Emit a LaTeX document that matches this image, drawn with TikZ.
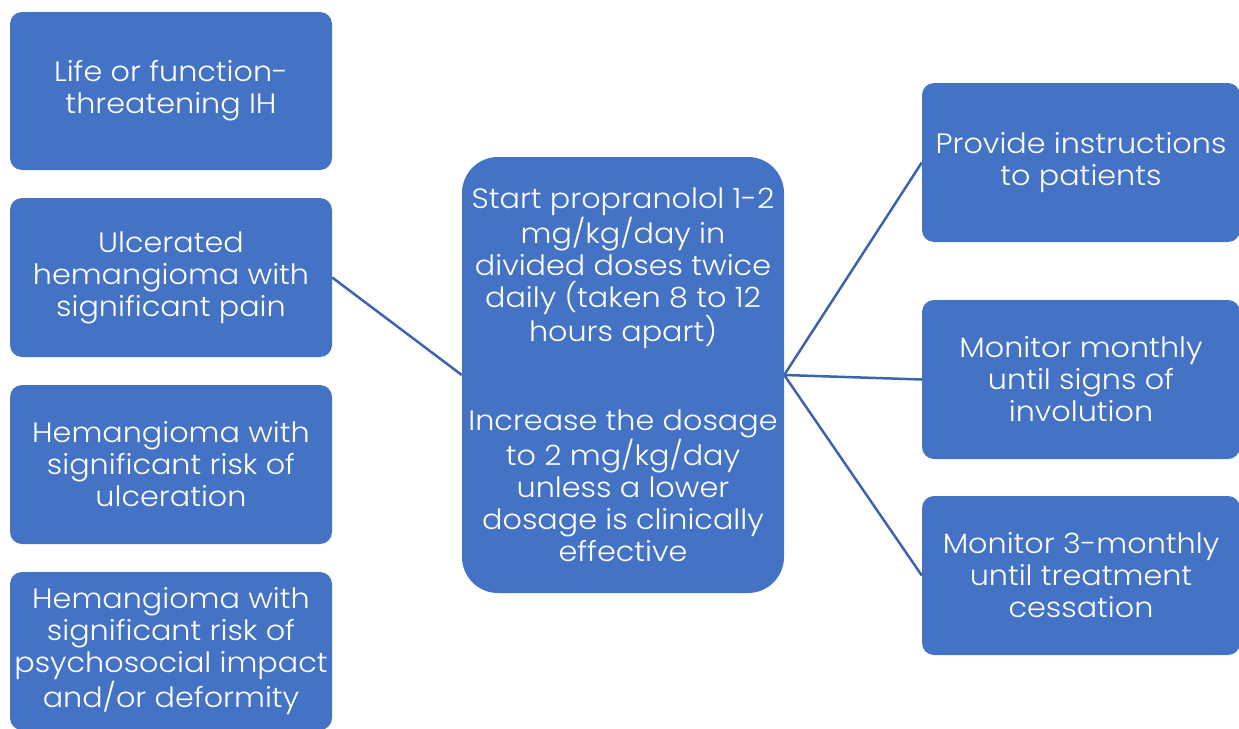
\documentclass[tikz,border=0pt]{standalone}
\usepackage{fontspec}
\setmainfont{Poppins}[UprightFont=* Light, FakeStretch=1.08]
\definecolor{boxblue}{HTML}{4472C4}
\definecolor{lineblue}{HTML}{3F62AC}
\tikzset{
  box/.style={rectangle, rounded corners=12pt, fill=boxblue, draw=none, text=white,
    align=center, inner sep=0pt, font=\fontsize{28}{32}\selectfont},
  bigbox/.style={box, rounded corners=36pt},
  conn/.style={draw=lineblue, line width=2.5pt}
}
\begin{document}
\begin{tikzpicture}[x=1pt,y=-1pt]
\useasboundingbox (0,0) rectangle (1239,728);
\node[box, minimum width=322pt, minimum height=158pt] (b1) at (171,91) {Life or function-\\threatening IH};
\node[box, minimum width=322pt, minimum height=159pt] (b2) at (171,277.5) {Ulcerated\\hemangioma with\\significant pain};
\node[box, minimum width=322pt, minimum height=159pt] (b3) at (171,464.5) {Hemangioma with\\significant risk of\\ulceration};
\node[box, minimum width=322pt, minimum height=158pt] (b4) at (171,651) {Hemangioma with\\significant risk of\\psychosocial impact\\and/or deformity};
\node[bigbox, minimum width=322pt, minimum height=436pt] (c) at (623,375) {Start propranolol 1-2\\mg/kg/day in\\divided doses twice\\daily (taken 8 to 12\\hours apart)\\[57pt]Increase the dosage\\to 2 mg/kg/day\\unless a lower\\dosage is clinically\\effective};
\node[box, minimum width=318pt, minimum height=159pt] (r1) at (1081,162.5) {Provide instructions\\to patients};
\node[box, minimum width=318pt, minimum height=159pt] (r2) at (1081,379.5) {Monitor monthly\\until signs of\\involution};
\node[box, minimum width=318pt, minimum height=159pt] (r3) at (1081,575.5) {Monitor 3-monthly\\until treatment\\cessation};
\draw[conn] (b2.east) -- (c.west);
\draw[conn] (c.east) -- (r1.west);
\draw[conn] (c.east) -- (r2.west);
\draw[conn] (c.east) -- (r3.west);
\end{tikzpicture}
\end{document}
